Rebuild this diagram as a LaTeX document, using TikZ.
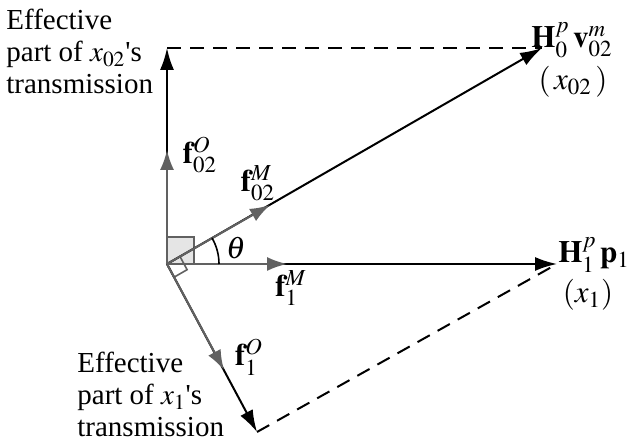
\documentclass[tikz,border=0pt]{standalone}
\usepackage{mathptmx}
\usepackage{fontspec}
\setmainfont{Liberation Serif}
\newfontfamily\plainfont{Liberation Serif}
\usetikzlibrary{arrows.meta}
\definecolor{mygray}{gray}{0.38}
\newcommand{\apos}{{\plainfont'}}
\begin{document}
\begin{tikzpicture}[x=0.5pt,y=-0.5pt,
  every node/.style={font=\fontsize{14.5}{16}\selectfont, inner sep=0pt},
  mlabel/.style={font=\fontsize{15.5}{16}\selectfont},
  vecline/.style={line width=1pt, black, -{Latex[length=11pt,width=7pt]}},
  gvec/.style={line width=1pt, mygray, -{Latex[length=10pt,width=7pt]}},
  dashline/.style={line width=1pt, black, dash pattern=on 7pt off 4.5pt},
  rsquare/.style={draw=mygray, line width=0.8pt}]
\useasboundingbox (0,0) rectangle (628,448);
% key points
\coordinate (O) at (167,264);
\coordinate (V) at (167,48);
\coordinate (D) at (542,48);
\coordinate (T) at (557,264);
\coordinate (L) at (257,432);
\coordinate (fOt) at (167,150);
\coordinate (fMt) at (270,205);
\coordinate (f1Mt) at (287,264);
\coordinate (f1Ot) at (224,370);
% right-angle marks
\filldraw[rsquare, fill=black!10] (O) rectangle (194,237);
\draw[rsquare] (O) -- (180,256.5) -- (187.1,269.7) -- (174.1,277.2) -- cycle;
% dashed projections
\draw[dashline] (V) -- (D);
\draw[dashline] (L) -- (T);
% vectors
\draw[vecline] (O) -- (V);
\draw[vecline] (O) -- (D);
\draw[vecline] (O) -- (T);
\draw[vecline] (O) -- (L);
\draw[gvec] (O) -- (fOt);
\draw[gvec] (O) -- (fMt);
\draw[gvec] (O) -- (f1Mt);
\draw[gvec] (O) -- (f1Ot);
% angle
\draw[line width=0.8pt] (O) ++(52,0) arc[start angle=0,end angle=-30,radius=52];
\node[mlabel] (theta) at (236,248) {$\theta$};
% labels
\node[mlabel] (lH0) at (572,40) {$\mathbf{H}_0^p\,\mathbf{v}_{02}^m$};
\node[mlabel] (lx02) at (573,82) {$(\,x_{02}\,)$};
\node[mlabel] (lH1) at (594,255) {$\mathbf{H}_1^p\,\mathbf{p}_1$};
\node[mlabel] (lx1) at (588,295) {$(x_1)$};
\node[mlabel] (lf02O) at (200,155) {$\mathbf{f}_{02}^O$};
\node[mlabel] (lf02M) at (258,183) {$\mathbf{f}_{02}^M$};
\node[mlabel] (lf1M) at (291,288) {$\mathbf{f}_1^M$};
\node[mlabel] (lf1O) at (249,357) {$\mathbf{f}_1^O$};
\node[anchor=north west, align=left] (txtA) at (6,9) {Effective\\part of $x_{02}$\apos s\\transmission};
\node[anchor=north west, align=left] (txtB) at (77,352) {Effective\\part of $x_1$\apos s\\transmission};
\end{tikzpicture}
\end{document}
